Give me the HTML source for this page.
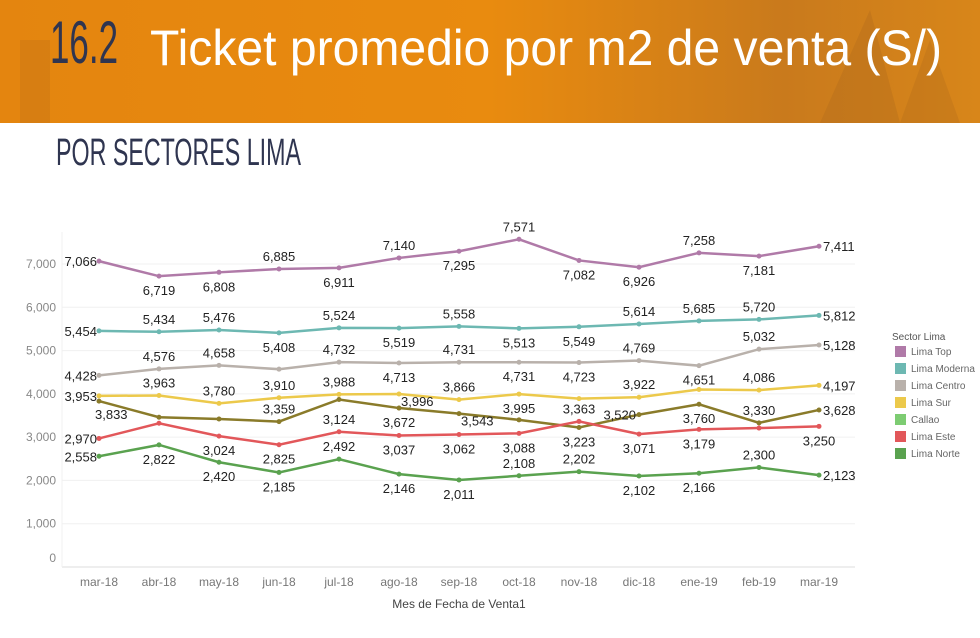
<!DOCTYPE html>
<html><head><meta charset="utf-8"><style>
body{margin:0;width:980px;height:633px;overflow:hidden;background:#fff;font-family:"Liberation Sans",sans-serif}
</style></head><body>
<svg id="svg" width="980" height="633" viewBox="0 0 980 633" xmlns="http://www.w3.org/2000/svg">
<defs>
<linearGradient id="hg" x1="0" x2="1" y1="0" y2="0">
<stop offset="0" stop-color="#e4850f"/><stop offset="0.5" stop-color="#e98b0f"/><stop offset="0.8" stop-color="#c97a1c"/><stop offset="1" stop-color="#d8861a"/>
</linearGradient>
</defs>
<g>
<rect x="0" y="0" width="980" height="123" fill="url(#hg)"/>
<polygon points="820,123 870,10 900,123" fill="#b06a1c" opacity="0.35"/>
<polygon points="900,123 930,40 960,123" fill="#b06a1c" opacity="0.3"/>
<rect x="20" y="40" width="30" height="83" fill="#b06a1c" opacity="0.25"/>
<text x="50" y="63" font-size="60" fill="#2f3550" textLength="68" lengthAdjust="spacingAndGlyphs">16.2</text>
<text x="150" y="65" font-size="50" fill="#fff" textLength="792" lengthAdjust="spacingAndGlyphs">Ticket promedio por m2 de venta (S/)</text>
</g>
<text x="56" y="165" font-size="38" fill="#2f3550" textLength="245" lengthAdjust="spacingAndGlyphs">POR SECTORES LIMA</text>
<g id="chart"></g>
</svg>
<script>
const months=["mar-18","abr-18","may-18","jun-18","jul-18","ago-18","sep-18","oct-18","nov-18","dic-18","ene-19","feb-19","mar-19"];
const yTicks=[0,1000,2000,3000,4000,5000,6000,7000];
const yTickLabels=["0","1,000","2,000","3,000","4,000","5,000","6,000","7,000"];
const seriesNames=["Lima Top","Lima Moderna","Lima Centro","Lima Sur","Callao","Lima Este","Lima Norte"];
const limaTop=[7066,6719,6808,6885,6911,7140,7295,7571,7082,6926,7258,7181,7411];
const limaModerna=[5454,5434,5476,5408,5524,5519,5558,5513,5549,5614,5685,5720,5812];
const limaCentro=[4428,4576,4658,4570,4732,4713,4731,4731,4723,4769,4651,5032,5128];
const limaSur=[3953,3963,3780,3910,3988,3996,3866,3995,3890,3922,4100,4086,4197];
const callao=[3833,3460,3420,3359,3870,3672,3543,3400,3223,3520,3760,3330,3628];
const limaEste=[2970,3320,3024,2825,3124,3037,3062,3088,3363,3071,3179,3210,3250];
const limaNorte=[2558,2822,2420,2185,2492,2146,2011,2108,2202,2102,2166,2300,2123];
const labelsTop="lbbabababbabr";
const labelsModerna="laabababbaaar";
const labelsCentro="laanababbabar";
const labelsSur="laaaaqabnanar";
const labelsCallao="snnanbqnbpbar";
const labelsEste="lnbbabbbabbnb";
const labelsNorte="lbbbabbaabbar";
const colors=["#b07aa8","#6db8b2","#b9b1ab","#ecc94b","#8a7b2a","#e2575a","#5aa24f"];
const legendColors=["#b07aa8","#6db8b2","#b9b1ab","#ecc94b","#7dcc72","#e2575a","#5aa24f"];
const allSeries=[limaTop,limaModerna,limaCentro,limaSur,callao,limaEste,limaNorte];
const allLabels=[labelsTop,labelsModerna,labelsCentro,labelsSur,labelsCallao,labelsEste,labelsNorte];

const NS="http://www.w3.org/2000/svg";
const g=document.getElementById('chart');
const X0=99,X1=819,Y0=567,Y7=264;
const x=i=>X0+(X1-X0)*i/(months.length-1);
const y=v=>Y0-(Y0-Y7)*v/7000;
const fmt=v=>v.toLocaleString('en-US');
function mk(t,a,p){const e=document.createElementNS(NS,t);for(const k in a)e.setAttribute(k,a[k]);(p||g).appendChild(e);return e;}

yTicks.forEach((t,i)=>{
  const gl=mk('line',{x1:62,x2:855,y1:y(t),y2:y(t),stroke:t===0?'#ddd':'#f0f0f0','stroke-width':1});
  
  
  const tx=mk('text',{x:56,y:y(t)+(t===0?-5:4),'text-anchor':'end','font-size':12,fill:'#888'});
  tx.textContent=yTickLabels[i];
  
  
});
mk('line',{x1:62,x2:62,y1:232,y2:567,stroke:'#f0f0f0'});
months.forEach((m,i)=>{
  const tx=mk('text',{x:x(i),y:586,'text-anchor':'middle','font-size':12,fill:'#777'});
  tx.textContent=m;
  
  
});
const xt=mk('text',{x:459,y:608,'text-anchor':'middle','font-size':12,fill:'#444'});
xt.textContent="Mes de Fecha de Venta1";



allSeries.forEach((s,si)=>{
  const sg=mk('g',{});
  
  
  const pl=mk('polyline',{points:s.map((v,i)=>x(i)+','+y(v)).join(' '),fill:'none',stroke:colors[si],'stroke-width':2.5},sg);
  
  
  s.forEach((v,i)=>{
    const c=mk('circle',{cx:x(i),cy:y(v),r:2.5,fill:colors[si]},sg);
    
    
    const p=allLabels[si][i];
    if(p==='n')return;
    let lx=x(i),ly=y(v),an='middle';
    if(p==='a')ly-=8;
    else if(p==='b')ly+=19;
    else if(p==='l'){lx-=2;ly+=5;an='end';}
    else if(p==='r'){lx+=4;ly+=5;an='start';}
    else if(p==='s'){lx-=4;ly+=18;an='start';}
    else if(p==='q'){lx+=2;ly+=12;an='start';}
    else if(p==='p'){lx-=3;ly+=5;an='end';}
    const t=mk('text',{x:lx,y:ly,'text-anchor':an,'font-size':13,fill:'#222'},sg);
    t.textContent=fmt(v);
    
    
  });
});

const lg=mk('g',{});


const lt=mk('text',{x:892,y:340,'font-size':10,fill:'#555'},lg);
lt.textContent="Sector Lima";


seriesNames.forEach((n,i)=>{
  const yy=346+i*17;
  const r=mk('rect',{x:895,y:yy,width:11,height:11,fill:legendColors[i]},lg);
  
  
  const t=mk('text',{x:911,y:yy+9,'font-size':10,fill:'#666'},lg);
  t.textContent=n;
  
  
});
</script>
</body></html>
